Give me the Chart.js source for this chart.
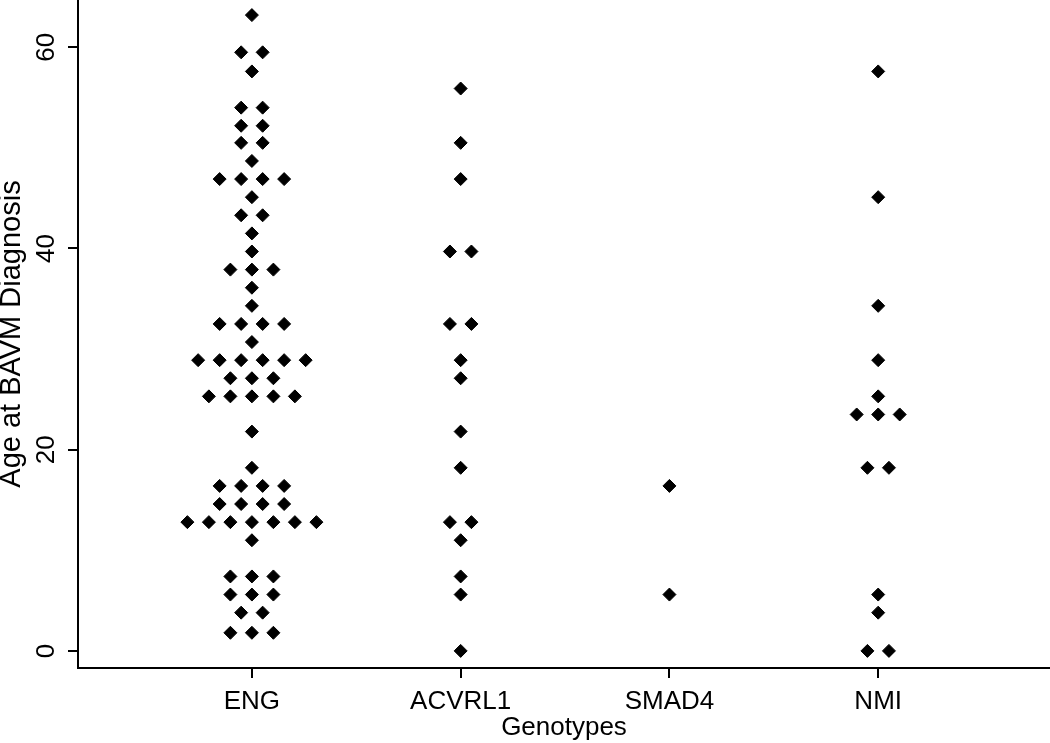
<!DOCTYPE html>
<html>
<head>
<meta charset="utf-8">
<script src="https://cdn.jsdelivr.net/npm/chart.js@4.4.0/dist/chart.umd.min.js"></script>
<style>
  body { margin: 0; background: #fff; }
  #wrap { width: 1050px; height: 743px; }
</style>
</head>
<body>
<div id="wrap"><canvas id="dotplot" width="1050" height="743"></canvas></div>
<script>
// Age at BAVM diagnosis by genotype
const genotypes = ['ENG', 'ACVRL1', 'SMAD4', 'NMI'];

const engAges = [
    63.2,
    59.5, 59.5,
    57.6,
    54.0, 54.0,
    52.2, 52.2,
    50.5, 50.5,
    48.7,
    46.9, 46.9, 46.9, 46.9,
    45.1,
    43.3, 43.3,
    41.5,
    39.7,
    37.9, 37.9, 37.9,
    36.1,
    34.3,
    32.5, 32.5, 32.5, 32.5,
    30.7,
    28.9, 28.9, 28.9, 28.9, 28.9, 28.9,
    27.1, 27.1, 27.1,
    25.3, 25.3, 25.3, 25.3, 25.3,
    21.8,
    18.2,
    16.4, 16.4, 16.4, 16.4,
    14.6, 14.6, 14.6, 14.6,
    12.8, 12.8, 12.8, 12.8, 12.8, 12.8, 12.8,
    11.0,
    7.4, 7.4, 7.4,
    5.6, 5.6, 5.6,
    3.8, 3.8,
    1.8, 1.8, 1.8
];
const acvrl1Ages = [55.9, 50.5, 46.9, 39.7, 39.7, 32.5, 32.5, 28.9, 27.1, 21.8, 18.2, 12.8, 12.8, 11.0, 7.4, 5.6, 0];
const smad4Ages = [16.4, 5.6];
const nmiAges = [57.6, 45.1, 34.3, 28.9, 25.3, 23.5, 23.5, 23.5, 18.2, 18.2, 5.6, 3.8, 0, 0];

const yTicks = [0, 20, 40, 60];
const yTitle = 'Age at BAVM Diagnosis';
const xTitle = 'Genotypes';

// spread tied values side by side, like a dotplot
const dotStep = 0.103;
function dotRows(ages, idx) {
    let counts = {};
    ages.forEach(a => { counts[a] = (counts[a] || 0) + 1; });
    let pts = [];
    Object.keys(counts).forEach(k => {
        let n = counts[k];
        for (let i = 0; i < n; i++) {
            pts.push({ x: idx + 1 + (i - (n - 1) / 2) * dotStep, y: parseFloat(k) });
        }
    });
    return pts;
}

const allAges = [engAges, acvrl1Ages, smad4Ages, nmiAges];
const fontFam = '"Liberation Sans", Arial, sans-serif';

// y tick labels are rotated in the original
const rotatedYLabels = {
    id: 'rotatedYLabels',
    afterDraw(chart) {
        const ctx = chart.ctx;
        const y = chart.scales.y;
        ctx.save();
        ctx.fillStyle = '#000';
        ctx.font = '26px ' + fontFam;
        ctx.textAlign = 'center';
        ctx.textBaseline = 'middle';
        yTicks.forEach(v => {
            ctx.save();
            ctx.translate(47, y.getPixelForValue(v));
            ctx.rotate(-Math.PI / 2);
            ctx.fillText(String(v), 0, 0);
            ctx.restore();
        });
        ctx.restore();
    }
};

let ctx = document.getElementById('dotplot').getContext('2d');
let myChart = new Chart(ctx, {
    type: 'scatter',
    data: {
        datasets: allAges.map((ages, i) => ({
            label: genotypes[i],
            data: dotRows(ages, i),
            pointStyle: 'rectRot',
            pointRadius: 6.5,
            backgroundColor: '#000',
            borderColor: '#000',
            borderWidth: 1,
            clip: false
        }))
    },
    options: {
        responsive: false,
        animation: false,
        layout: { autoPadding: false, padding: 0 },
        plugins: {
            legend: { display: false },
            tooltip: { enabled: false }
        },
        scales: {
            x: {
                type: 'linear',
                min: 0.167,
                max: 4.823,
                afterBuildTicks: (s) => { s.ticks = genotypes.map((g, i) => ({ value: i + 1 })); },
                afterFit: (s) => { s.height = 75; },
                ticks: {
                    color: '#000',
                    padding: 8,
                    font: { family: fontFam, size: 26 },
                    callback: (v) => genotypes[v - 1]
                },
                grid: { display: true, drawOnChartArea: false, drawTicks: true, tickLength: 10, color: '#000', lineWidth: 2 },
                border: { display: true, color: '#000', width: 2 },
                title: {
                    display: true,
                    text: xTitle,
                    color: '#000',
                    padding: 0,
                    font: { family: fontFam, size: 26 }
                }
            },
            y: {
                type: 'linear',
                min: -1.7,
                max: 64.7,
                afterBuildTicks: (s) => { s.ticks = yTicks.map(v => ({ value: v })); },
                afterFit: (s) => { s.width = 78; },
                ticks: { display: false },
                grid: { display: true, drawOnChartArea: false, drawTicks: true, tickLength: 10, color: '#000', lineWidth: 2 },
                border: { display: true, color: '#000', width: 2 },
                title: {
                    display: true,
                    text: yTitle,
                    color: '#000',
                    padding: { top: -5, bottom: 0 },
                    font: { family: fontFam, size: 29 }
                }
            }
        }
    },
    plugins: [rotatedYLabels]
});
</script>
</body>
</html>
